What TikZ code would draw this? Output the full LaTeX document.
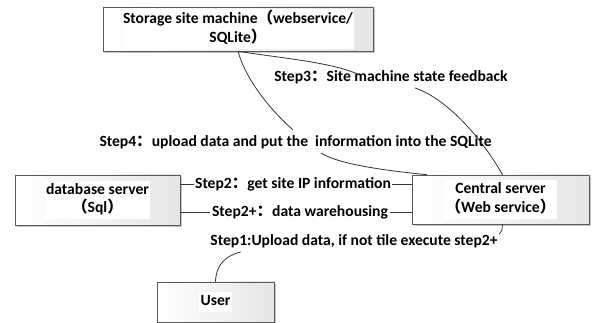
\documentclass[tikz,border=0pt]{standalone}
\usepackage{fontspec}
\setmainfont{Carlito}
\newfontfamily\cjk{Noto Sans CJK SC}
\usetikzlibrary{shadows}
\setlength\fboxsep{1pt}
\newcommand\fw[1]{{\cjk #1}}
\newcommand\boxtext[1]{\colorbox{white}{\begin{tabular}{@{}c@{}}#1\end{tabular}}}
\begin{document}
\begin{tikzpicture}[
   x=0.75pt,y=-0.75pt,
   machine/.style={draw=black!65,left color=white,right color=black!10,
     drop shadow={shadow xshift=1.2pt,shadow yshift=-1.2pt,fill=black!45},
     inner sep=0pt},
   steplabel/.style={inner sep=1pt},
   link/.style={draw=black!80,line width=0.6pt},
   every node/.style={font=\fontsize{11.7}{12.8}\selectfont\bfseries}
 ]
  \useasboundingbox (0,0) rectangle (592,323);
  % boxes
  \node[machine,minimum width=202.5pt,minimum height=33pt] (store) at (238,29)
    {\boxtext{Storage site machine\fw{（}webservice/\\SQLite\fw{）}}};
  \node[machine,minimum width=123.75pt,minimum height=37.5pt] (db) at (97.5,200)
    {\boxtext{database server\\\fw{（}Sql\fw{）}}};
  \node[machine,minimum width=132.75pt,minimum height=36.75pt] (central) at (500.5,199.5)
    {\boxtext{Central server\\\fw{（}Web service\fw{）}}};
  \node[machine,minimum width=87.75pt,minimum height=30pt] (user) at (215.5,302)
    {\boxtext{User}};
  % step labels
  \node[steplabel] (s3) at (391,77) {Step3\fw{：}Site machine state feedback};
  \node[steplabel] (s4) at (295.5,142) {Step4\fw{：}upload data and put the~ information into the SQLite};
  \node[steplabel] (s2) at (293,184) {Step2\fw{：}get site IP information};
  \node[steplabel] (s2p) at (300,212) {Step2+\fw{：}data warehousing};
  \node[steplabel] (s1) at (354,241) {Step1:Upload data, if not tile execute step2+};
  % connectors
  \draw[link] (store.south) .. controls (280,58) and (330,62) .. ([xshift=-25pt,yshift=-4pt]s3.north);
  \draw[link] ([xshift=18pt,yshift=-2pt]s3.south) .. controls (445,98) and (480,135) .. ([xshift=1.5pt]central.north);
  \draw[link] (store.south) .. controls (245,78) and (270,110) .. ([xshift=-2pt,yshift=3pt]s4.north);
  \draw[link] ([xshift=19pt,yshift=-2pt]s4.south) .. controls (340,165) and (390,171) .. ([xshift=-55pt]central.north);
  \draw[link] (s2.west -| db.east) -- (s2.west);
  \draw[link] (s2.east) -- (s2.east -| central.west);
  \draw[link] (s2p.west -| db.east) -- (s2p.west);
  \draw[link] (s2p.east) -- (s2p.east -| central.west);
  \draw[link] ([xshift=1.5pt]central.south) .. controls (502,231) .. ([xshift=109pt,yshift=-1pt]s1.north);
  \draw[link] ([xshift=-85pt,yshift=-2pt]s1.south) .. controls (225,256) and (216,265) .. (user.north);
 \end{tikzpicture}
\end{document}
